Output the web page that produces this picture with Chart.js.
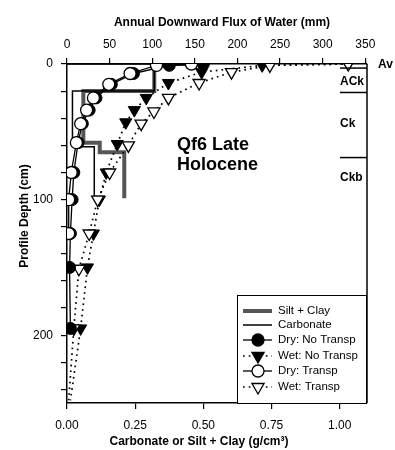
<!DOCTYPE html>
<html>
<head>
<meta charset="utf-8">
<script src="https://cdn.jsdelivr.net/npm/chart.js@4/dist/chart.umd.min.js"></script>
<style>
  html, body { margin: 0; padding: 0; background: #fff; }
  #wrap { width: 395px; height: 450px; }
</style>
</head>
<body>
<div id="wrap"><canvas id="myChart"></canvas></div>
<script>
// water flux profiles (mm) against depth (cm)
const dryNoTranspDepth = [0, 1, 7, 15, 25, 34, 44, 58, 80, 100, 125, 150, 195];
const dryNoTranspFlux = [160, 120, 78, 52, 34, 26, 18, 13, 8, 6, 4, 3, 4];
const dryTranspDepth = [0, 1, 7, 15, 25, 34, 44, 58, 80, 100, 125];
const dryTranspFlux = [146, 105, 74, 49, 31, 23, 16, 11, 5, 2, 2];
const wetNoTranspDepth = [0, 1, 6, 14, 25, 34, 43, 59, 80, 100, 125, 150, 195, 248];
const wetNoTranspFlux = [330, 229, 158, 119, 93, 79, 69, 59, 46, 38, 31, 24, 16, 4];
const wetTranspDepth = [0, 1, 6, 14, 25, 35, 44, 60, 80, 100, 125, 151, 195, 248];
const wetTranspFlux = [330, 238, 193, 155, 119, 102, 87, 72, 50, 36, 26, 14, 8, 2];

// step profiles (g/cm3) against depth (cm)
const siltClayDepth = [0, 0, 20, 20, 58, 58, 65, 65, 99];
const siltClayValue = [0.52, 0.32, 0.32, 0.06, 0.06, 0.12, 0.12, 0.21, 0.21];
const carbonateDepth = [0, 0, 20, 20, 61, 61, 98];
const carbonateValue = [0, 0.32, 0.32, 0.02, 0.02, 0.10, 0.10];

// soil horizons
const horizonNames = ['Av', 'ACk', 'Ck', 'Ckb'];
const horizonLabelDepth = [0.7, 13, 44, 84];
const horizonBounds = [3, 21, 69];

// axis ticks
const bottomTicks = [0, 0.25, 0.5, 0.75, 1.0];
const topTicks = [0, 50, 100, 150, 200, 250, 300, 350];
const depthTicks = [0, 20, 40, 60, 80, 100, 120, 140, 160, 180, 200, 220, 240];
const depthLabels = [0, 100, 200];

const FONT = '"Liberation Sans", Arial, Helvetica, sans-serif';

const pts = (xs, ys) => xs.map((v, i) => ({ x: v, y: ys[i] }));
const hideDeep = ctx => (ctx.raw && ctx.raw.y > 240 ? 0 : 7);

const datasets = [
    {
        label: 'Dry: Transp', xAxisID: 'x2', yAxisID: 'y',
        data: pts(dryTranspFlux, dryTranspDepth),
        showLine: true, borderColor: '#000', borderWidth: 1.3,
        pointStyle: 'circle', pointRadius: 6, pointBackgroundColor: '#fff',
        pointBorderColor: '#000', pointBorderWidth: 1.3
    },
    {
        label: 'Dry: No Transp', xAxisID: 'x2', yAxisID: 'y',
        data: pts(dryNoTranspFlux, dryNoTranspDepth),
        showLine: true, borderColor: '#000', borderWidth: 1.3,
        pointStyle: 'circle', pointRadius: 6, pointBackgroundColor: '#000',
        pointBorderColor: '#000', pointBorderWidth: 1
    },
    {
        label: 'Wet: Transp', xAxisID: 'x2', yAxisID: 'y',
        data: pts(wetTranspFlux, wetTranspDepth),
        showLine: true, borderColor: '#000', borderWidth: 1.7, borderDash: [1.7, 4],
        pointStyle: 'triangle', rotation: 180, pointRadius: hideDeep,
        pointBackgroundColor: '#fff', pointBorderColor: '#000', pointBorderWidth: 1.3
    },
    {
        label: 'Wet: No Transp', xAxisID: 'x2', yAxisID: 'y',
        data: pts(wetNoTranspFlux, wetNoTranspDepth),
        showLine: true, borderColor: '#000', borderWidth: 1.7, borderDash: [1.7, 4],
        pointStyle: 'triangle', rotation: 180, pointRadius: hideDeep,
        pointBackgroundColor: '#000', pointBorderColor: '#000', pointBorderWidth: 1
    },
    {
        label: 'Carbonate', xAxisID: 'x', yAxisID: 'y',
        data: pts(carbonateValue, carbonateDepth),
        showLine: true, borderColor: '#000', borderWidth: 1.5, pointRadius: 0
    },
    {
        label: 'Silt + Clay', xAxisID: 'x', yAxisID: 'y',
        data: pts(siltClayValue, siltClayDepth),
        showLine: true, borderColor: '#555', borderWidth: 4, pointRadius: 0,
        borderJoinStyle: 'miter', borderCapStyle: 'butt'
    }
];

function drawMarker(ctx, kind, x, y) {
    ctx.lineWidth = 1.3;
    ctx.strokeStyle = '#000';
    ctx.beginPath();
    if (kind === 'circle') {
        ctx.arc(x, y, 6, 0, Math.PI * 2);
    } else {
        const r = 7;
        for (let k = 0; k < 3; k++) {
            const a = Math.PI + k * 2 * Math.PI / 3;
            const px = x + Math.sin(a) * r, py = y - Math.cos(a) * r;
            if (k === 0) ctx.moveTo(px, py); else ctx.lineTo(px, py);
        }
        ctx.closePath();
    }
}

const legendOrder = ['Silt + Clay', 'Carbonate', 'Dry: No Transp', 'Wet: No Transp', 'Dry: Transp', 'Wet: Transp'];

const extras = {
    id: 'extras',
    afterDraw(chart) {
        const { ctx, chartArea: a, scales } = chart;
        const y = scales.y;
        ctx.save();
        // right frame
        ctx.strokeStyle = '#000';
        ctx.lineWidth = 1.5;
        ctx.beginPath();
        ctx.moveTo(a.right, a.top);
        ctx.lineTo(a.right, a.bottom);
        ctx.stroke();

        // axis titles
        ctx.fillStyle = '#000';
        ctx.font = 'bold 12px ' + FONT;
        ctx.textAlign = 'center';
        ctx.textBaseline = 'middle';
        ctx.fillText('Annual Downward Flux of Water (mm)', 222, 23);
        ctx.fillText('Carbonate or Silt + Clay (g/cm\u00B3)', 199, 442);
        ctx.save();
        ctx.translate(25, 216);
        ctx.rotate(-Math.PI / 2);
        ctx.fillText('Profile Depth (cm)', 0, 0);
        ctx.restore();

        // site label
        ctx.font = 'bold 18px ' + FONT;
        ctx.textAlign = 'left';
        ctx.textBaseline = 'alphabetic';
        ctx.fillText('Qf6 Late', 177, 150);
        ctx.fillText('Holocene', 177, 170);

        // horizons
        ctx.lineWidth = 1.5;
        horizonBounds.forEach(d => {
            const py = y.getPixelForValue(d);
            ctx.beginPath();
            ctx.moveTo(a.right - 27, py);
            ctx.lineTo(a.right, py);
            ctx.stroke();
        });
        ctx.font = 'bold 12px ' + FONT;
        ctx.textBaseline = 'middle';
        ctx.textAlign = 'left';
        horizonNames.forEach((n, i) => {
            const py = y.getPixelForValue(horizonLabelDepth[i]);
            ctx.fillText(n, i === 0 ? a.right + 11 : a.right - 27, py);
        });

        // legend
        const lx = 237, ly = 295, lw = a.right - lx, lh = a.bottom - ly;
        ctx.fillStyle = '#fff';
        ctx.fillRect(lx, ly, lw, lh);
        ctx.lineWidth = 1;
        ctx.strokeStyle = '#000';
        ctx.strokeRect(lx + 0.5, ly + 0.5, lw - 1, lh);
        const rows = [311, 325, 340, 356, 371, 387];
        const x0 = 243, x1 = 272, xm = 258;
        rows.forEach((ry, i) => {
            const ds = datasets.find(d => d.label === legendOrder[i]);
            ctx.save();
            ctx.strokeStyle = ds.borderColor;
            ctx.lineWidth = ds.borderWidth;
            ctx.setLineDash(ds.borderDash || []);
            ctx.beginPath();
            ctx.moveTo(x0, ry);
            ctx.lineTo(x1, ry);
            ctx.stroke();
            ctx.setLineDash([]);
            if (ds.pointStyle) {
                drawMarker(ctx, ds.pointStyle, xm, ry);
                ctx.fillStyle = ds.pointBackgroundColor;
                ctx.fill();
                ctx.stroke();
            }
            ctx.restore();
            ctx.fillStyle = '#000';
            ctx.font = '11.5px ' + FONT;
            ctx.textAlign = 'left';
            ctx.textBaseline = 'middle';
            ctx.fillText(ds.label, 278, ry);
        });
        ctx.restore();
    }
};

const tickFont = { family: FONT, size: 12 };
const axisGrid = { drawOnChartArea: false, tickLength: 6, color: '#000', lineWidth: 1.2 };
const axisBorder = { color: '#000', width: 1.5 };

const config = {
    type: 'scatter',
    data: { datasets: datasets },
    options: {
        responsive: true,
        maintainAspectRatio: false,
        animation: false,
        layout: { padding: { left: 0, right: 28, top: 0, bottom: 0 } },
        plugins: { legend: { display: false }, tooltip: { enabled: false } },
        scales: {
            x: {
                type: 'linear', position: 'bottom', min: 0, max: 1.1,
                afterBuildTicks: s => { s.ticks = bottomTicks.map(v => ({ value: v })); },
                afterFit: s => { s.height = 47; },
                ticks: { callback: v => v.toFixed(2), color: '#000', font: tickFont, padding: 9, maxRotation: 0 },
                grid: axisGrid, border: axisBorder
            },
            x2: {
                type: 'linear', position: 'top', min: 0, max: 352,
                afterBuildTicks: s => { s.ticks = topTicks.map(v => ({ value: v })); },
                afterFit: s => { s.height = 64; },
                ticks: { color: '#000', font: tickFont, padding: 6, maxRotation: 0 },
                grid: axisGrid, border: axisBorder
            },
            y: {
                type: 'linear', position: 'left', reverse: true, min: 0, max: 250,
                afterBuildTicks: s => { s.ticks = depthTicks.map(v => ({ value: v })); },
                afterFit: s => { s.width = 67; },
                ticks: {
                    callback: v => (depthLabels.includes(v) ? String(v) : ''),
                    color: '#000', font: tickFont, padding: 8
                },
                grid: axisGrid, border: axisBorder
            }
        }
    },
    plugins: [extras]
};

const myChart = new Chart(document.getElementById('myChart'), config);
</script>
</body>
</html>
